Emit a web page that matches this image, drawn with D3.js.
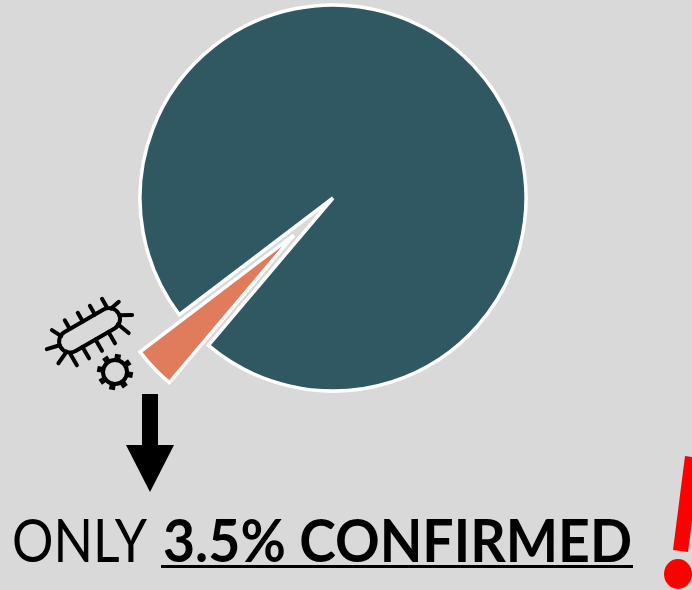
<!DOCTYPE html>
<html>
<head>
<meta charset="utf-8">
<script src="https://cdnjs.cloudflare.com/ajax/libs/d3/7.8.5/d3.min.js"></script>
<style>
    html, body { margin: 0; padding: 0; background: #d9d9d9; }
    svg { display: block; }
    text { font-family: Lato, "Open Sans", sans-serif; fill: #000; }
</style>
</head>
<body>
<div id="chart"></div>
<script>
// Pie values (percent)
const categories = ['Confirmed', 'Other'];
const values = [3.5, 96.5];
const sliceColors = ['#e07b5c', '#2f5863'];

document.addEventListener('DOMContentLoaded', () => {
    const width = 692;
    const height = 590;

    const svg = d3.select('#chart')
        .append('svg')
        .attr('width', width)
        .attr('height', height);

    svg.append('rect').attr('width', width).attr('height', height).attr('fill', '#d9d9d9');

    // Pie, the small slice is pulled out along its middle angle
    const cx = 333, cy = 198, radius = 193, explode = 54;
    const start = 220.2 * Math.PI / 180;
    const pie = d3.pie().sort(null).startAngle(start).endAngle(start + 2 * Math.PI);
    const arc = d3.arc().innerRadius(0).outerRadius(radius);

    svg.append('g')
        .attr('transform', `translate(${cx},${cy})`)
        .selectAll('path')
        .data(pie(values))
        .enter()
        .append('path')
        .attr('d', arc)
        .attr('fill', (d, i) => sliceColors[i])
        .attr('stroke', '#fff')
        .attr('stroke-width', 3.5)
        .attr('stroke-linejoin', 'miter')
        .attr('transform', (d, i) => {
            if (categories[i] !== 'Confirmed') return null;
            const mid = (d.startAngle + d.endAngle) / 2;
            return `translate(${explode * Math.sin(mid)},${-explode * Math.cos(mid)})`;
        });

    // Bacterium icon
    const bug = svg.append('g')
        .attr('transform', 'translate(90,330) rotate(-30)')
        .attr('stroke', '#000')
        .attr('fill', 'none')
        .attr('stroke-linecap', 'round');

    bug.append('rect')
        .attr('x', -34).attr('y', -11)
        .attr('width', 67).attr('height', 22)
        .attr('rx', 11)
        .attr('stroke-width', 4);

    [-17, -2, 12, 26].forEach(x => {
        bug.append('line').attr('x1', x).attr('y1', -11).attr('x2', x).attr('y2', -21).attr('stroke-width', 4);
    });
    [-29, -15, 0, 15].forEach(x => {
        bug.append('line').attr('x1', x).attr('y1', 11).attr('x2', x).attr('y2', 24).attr('stroke-width', 4);
    });
    // Spikes at the rounded ends
    [[-28, -9, -33, -19], [-34, -2, -47, -5], [-31, 7, -44, 13], [29, -8, 39, -10], [33, 2, 44, 8], [27, 9, 32, 22]].forEach(s => {
        bug.append('line')
            .attr('x1', s[0]).attr('y1', s[1])
            .attr('x2', s[2]).attr('y2', s[3])
            .attr('stroke-width', 4);
    });

    // Gear icon
    const gear = svg.append('g').attr('transform', 'translate(115,372)');
    gear.append('circle').attr('r', 12).attr('fill', 'none').attr('stroke', '#000').attr('stroke-width', 4);
    d3.range(8).forEach(i => {
        gear.append('rect')
            .attr('x', -3).attr('y', -18)
            .attr('width', 6).attr('height', 6)
            .attr('fill', '#000')
            .attr('transform', `rotate(${i * 45 + 10})`);
    });

    // Down arrow
    svg.append('path')
        .attr('d', 'M142,394 H158 V445 H174 L150,492 L126,445 H142 Z')
        .attr('fill', '#000');

    // Caption
    const caption = svg.append('text')
        .attr('y', 562)
        .attr('font-size', 60);
    caption.append('tspan').attr('x', 12).attr('textLength', 135).attr('lengthAdjust', 'spacingAndGlyphs').text('ONLY');
    caption.append('tspan').attr('x', 163).attr('textLength', 469).attr('lengthAdjust', 'spacingAndGlyphs')
        .attr('font-weight', 700).text('3.5% CONFIRMED');

    svg.append('rect').attr('x', 161).attr('y', 565).attr('width', 472).attr('height', 3).attr('fill', '#000');

    // Red exclamation mark
    svg.append('path')
        .attr('d', 'M685,456 L700,458 L688,552 L673,550 Z')
        .attr('fill', '#ff0000');
    svg.append('ellipse')
        .attr('cx', 678).attr('cy', 574)
        .attr('rx', 14).attr('ry', 15)
        .attr('fill', '#ff0000');
});
</script>
</body>
</html>
